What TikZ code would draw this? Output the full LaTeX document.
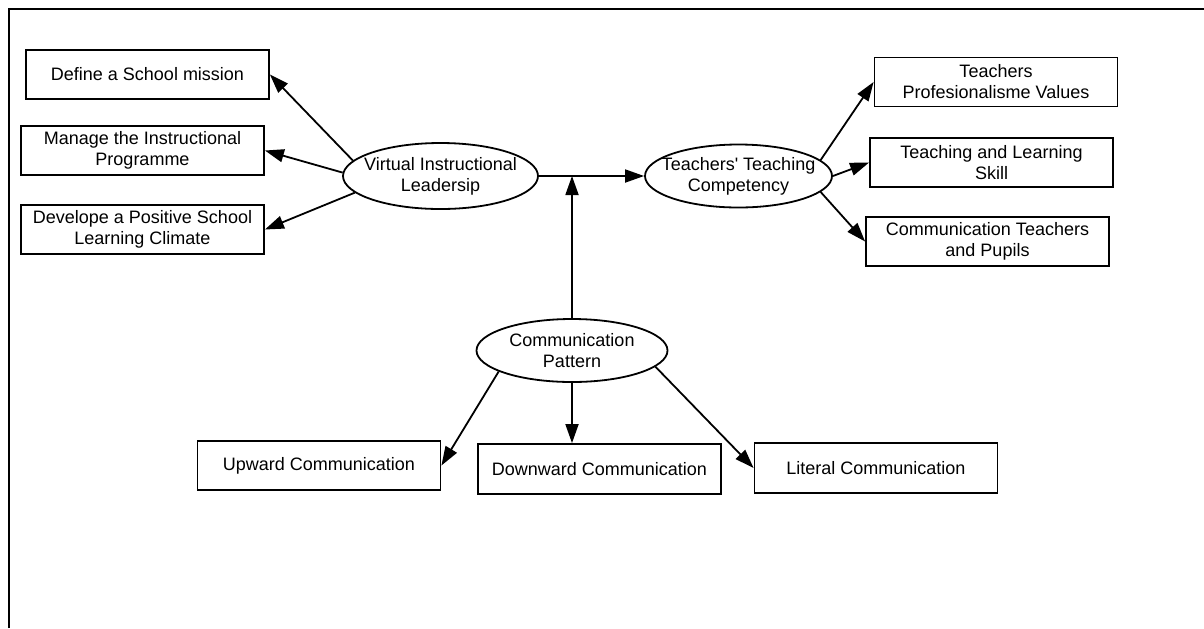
\documentclass[tikz,border=0pt]{standalone}
\usepackage{fontspec}
\setmainfont{Liberation Sans}
\usetikzlibrary{shapes.geometric,arrows.meta}
\begin{document}
\begin{tikzpicture}
[x=0.5pt,y=-0.5pt,
  boxdecorate/.style={shape=rectangle,draw,line width=0.9pt,minimum width=121.5pt,minimum height=24.5pt,inner sep=1pt,align=center,font=\fontsize{9}{10.5}\selectfont},%
  ovaldecorate/.style={shape=ellipse,draw,line width=0.9pt,inner xsep=-20pt,inner ysep=-5pt,align=center,font=\fontsize{9}{10.5}\selectfont},%
  linedecorate/.style={-{Triangle[length=9.5pt,width=6.5pt]},line width=0.9pt}]
\useasboundingbox (0,0) rectangle (1204,628);
% frame
\draw[line width=1.2pt] (9,628) -- (9,9) -- (1204,9);
% nodes or vertices
\node (vil) at (440.5,176) [ovaldecorate,minimum width=97.5pt,minimum height=33pt] {Virtual Instructional\\Leadersip};
\node (ttc) at (738.5,176) [ovaldecorate,minimum width=93.5pt,minimum height=31.5pt] {Teachers\textquotesingle\ Teaching\\Competency};
\node (cp) at (572,350.5) [ovaldecorate,minimum width=95.5pt,minimum height=31.5pt] {Communication\\Pattern};
\node (define) at (147.5,74.5) [boxdecorate] {Define a School mission};
\node (manage) at (142.5,150.5) [boxdecorate] {Manage the Instructional\\Programme};
\node (develope) at (142.5,229.5) [boxdecorate] {Develope a Positive School\\Learning Climate};
\node (prof) at (996,82) [boxdecorate] {Teachers\\Profesionalisme Values};
\node (skill) at (991.5,162.5) [boxdecorate] {Teaching and Learning\\Skill};
\node (pupils) at (987.5,241.5) [boxdecorate] {Communication Teachers\\and Pupils};
\node (upward) at (319,465.5) [boxdecorate] {Upward Communication};
\node (downward) at (599.5,469) [boxdecorate,minimum height=25pt] {Downward Communication};
\node (literal) at (876,468) [boxdecorate,minimum height=25pt] {Literal Communication};
\coordinate (meet) at (cp.north |- vil.east);
% edges or lines
\path
(vil.170) edge[linedecorate] (define.east)
(vil.178) edge[linedecorate] (manage.east)
(vil.191) edge[linedecorate] (develope.east)
(vil.east) edge[linedecorate] (ttc.west)
(cp.north) edge[linedecorate] (meet)
(ttc.11) edge[linedecorate] (prof.west)
(ttc.east) edge[linedecorate] (skill.west)
(ttc.349) edge[linedecorate] (pupils.west)
(cp.196) edge[linedecorate] (upward.east)
(cp.south) edge[linedecorate] (cp.south |- downward.north)
(cp.349) edge[linedecorate] (literal.west);
\end{tikzpicture}
\end{document}
